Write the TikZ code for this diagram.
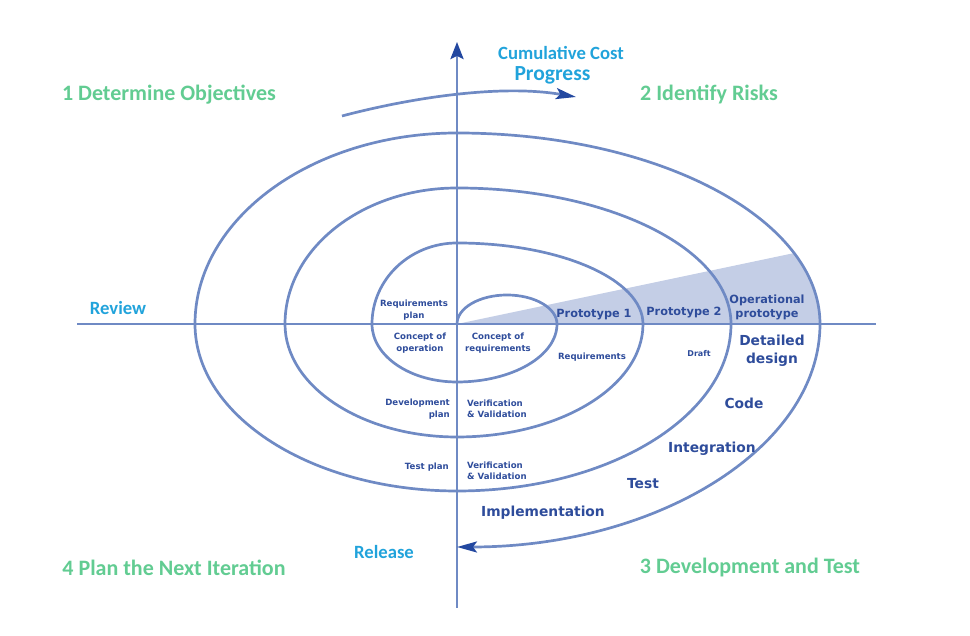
\documentclass[tikz,border=0pt]{standalone}
\usepackage{fontspec}
\newfontfamily\carl{Carlito}
\newfontfamily\dvs{DejaVu Sans}
\usetikzlibrary{arrows.meta}
\definecolor{linec}{RGB}{111,138,196}
\definecolor{tipc}{RGB}{35,72,160}
\definecolor{wedgec}{RGB}{196,206,230}
\definecolor{txtc}{RGB}{46,76,155}
\definecolor{cyanc}{RGB}{33,163,219}
\definecolor{greenc}{RGB}{98,204,146}
\tikzset{
  axisline/.style={draw=linec,line width=2.7pt},
  spiralline/.style={draw=linec,line width=2.7pt},
  bigtip/.style={-{Stealth[length=20pt,width=11pt,inset=4pt,color=tipc]}},
  axistip/.style={-{Stealth[length=17pt,width=13pt,inset=3pt,color=tipc]}},
  quadlabel/.style={text=greenc,font=\carl\bfseries\fontsize{22}{24}\selectfont},
  cyanlabel/.style={text=cyanc,font=\carl\bfseries\fontsize{18.7}{21}\selectfont},
  smalltxt/.style={text=txtc,font=\dvs\bfseries\fontsize{8.6}{11.5}\selectfont,inner sep=0pt},
  midtxt/.style={text=txtc,font=\dvs\bfseries\fontsize{11.3}{14}\selectfont,inner sep=0pt},
  bigtxt/.style={text=txtc,font=\dvs\bfseries\fontsize{13.8}{18}\selectfont,inner sep=0pt}
}
\begin{document}
\begin{tikzpicture}[x=1pt,y=1pt]
\useasboundingbox (0,0) rectangle (970,636);
\coordinate (O) at (457,312);
\coordinate (W) at (794,382.9);
% shaded wedge
\fill[wedgec] (O) -- (W) arc[start angle=21.8,end angle=0,x radius=363pt,y radius=191pt] -- cycle;
% axes
\coordinate (xl) at (77,312);
\coordinate (xr) at (876,312);
\coordinate (ybot) at (457,28);
\coordinate (ytop) at (457,594);
\draw[axisline] (xl) -- (xr);
\draw[axisline,axistip] (ybot) -- (ytop);
% spiral
\draw[spiralline,bigtip] (O)
  arc[start angle=180,end angle=0,x radius=50pt,y radius=29pt]
  arc[start angle=0,end angle=-90,x radius=100pt,y radius=58pt]
  arc[start angle=270,end angle=180,x radius=85pt,y radius=58pt]
  arc[start angle=180,end angle=90,x radius=85pt,y radius=81pt]
  arc[start angle=90,end angle=0,x radius=186pt,y radius=81pt]
  arc[start angle=0,end angle=-90,x radius=186pt,y radius=113pt]
  arc[start angle=270,end angle=180,x radius=172pt,y radius=113pt]
  arc[start angle=180,end angle=90,x radius=172pt,y radius=136pt]
  arc[start angle=90,end angle=0,x radius=274pt,y radius=136pt]
  arc[start angle=0,end angle=-90,x radius=274pt,y radius=167pt]
  arc[start angle=270,end angle=180,x radius=262pt,y radius=167pt]
  arc[start angle=180,end angle=90,x radius=262pt,y radius=191pt]
  arc[start angle=90,end angle=0,x radius=363pt,y radius=191pt]
  arc[start angle=0,end angle=-90,x radius=363pt,y radius=223pt];
% top progress arrow
\coordinate (pa) at (342,520);
\coordinate (pb) at (576,539);
\draw[spiralline,bigtip] (pa) .. controls (410,538) and (500,552) .. (pb);
% quadrant labels
\node[quadlabel] (q1) at (169,541) {1 Determine Objectives};
\node[quadlabel] (q2) at (709,541) {2 Identify Risks};
\node[quadlabel] (q4) at (174,68) {4 Plan the Next Iteration};
\node[quadlabel] (q3) at (750,68) {3 Development and Test};
% cyan labels
\node[cyanlabel] (cum) at (561,583) {Cumulative Cost};
\node[cyanlabel,font=\carl\bfseries\fontsize{21.5}{24}\selectfont] (prog) at (552.5,561) {Progress};
\node[cyanlabel] (rev) at (118,328) {Review};
\node[cyanlabel] (rel) at (384,84) {Release};
% small texts
\node[smalltxt,align=center] (reqplan) at (414,326) {Requirements\\plan};
\node[smalltxt,align=center] (conop) at (420,293) {Concept of\\operation};
\node[smalltxt,align=center] (conreq) at (498,293) {Concept of\\requirements};
\node[smalltxt] (req) at (592,279) {Requirements};
\node[smalltxt,font=\dvs\bfseries\fontsize{8}{10}\selectfont] (draft) at (699,282) {Draft};
\node[smalltxt,align=left,anchor=west] (vv1) at (467,227) {Verification\\\& Validation};
\node[smalltxt,align=left,anchor=west] (vv2) at (467,165) {Verification\\\& Validation};
\node[smalltxt,align=right,anchor=east] (devplan) at (450,227) {Development\\plan};
\node[smalltxt,anchor=east] (testplan) at (449,169) {Test plan};
% mid texts
\node[midtxt] (p1) at (594,321) {Prototype 1};
\node[midtxt] (p2) at (684,323) {Prototype 2};
\node[midtxt,align=center] (opp) at (767,329) {Operational\\prototype};
% big texts
\node[bigtxt,align=center] (dd) at (772,285) {Detailed\\design};
\node[bigtxt] (code) at (744,233) {Code};
\node[bigtxt] (integ) at (712,187) {Integration};
\node[bigtxt] (test) at (643,152) {Test};
\node[bigtxt] (impl) at (543,123) {Implementation};
\end{tikzpicture}
\end{document}
